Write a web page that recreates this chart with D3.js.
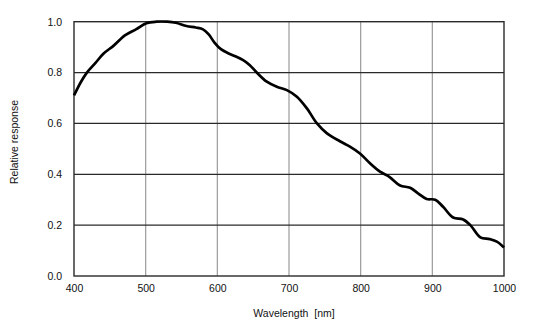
<!DOCTYPE html>
<html><head><meta charset="utf-8">
<script src="https://cdn.jsdelivr.net/npm/d3@7/dist/d3.min.js"></script>
<style>body{margin:0;background:#fff}svg{display:block}text{font-family:"Liberation Sans",Arial,sans-serif;fill:#111}</style>
</head><body><svg id="c" width="554" height="331"></svg>
<script>
const wavelength = [400,410,418,430,441,455,471,487,501,515,530,542,557,570,580,588,596,605,615,625,636,645,655,669,683,697,711,725,739,753,771,785,799,813,827,840,855,869,880,892,904,915,929,943,953,967,980,990,1000];
const response = [0.71,0.765,0.80,0.838,0.874,0.905,0.946,0.971,0.994,1.0,1.0,0.996,0.983,0.977,0.97,0.95,0.918,0.892,0.876,0.864,0.849,0.83,0.80,0.764,0.744,0.731,0.705,0.659,0.60,0.561,0.530,0.509,0.482,0.443,0.41,0.39,0.356,0.347,0.325,0.303,0.30,0.272,0.23,0.222,0.20,0.152,0.145,0.135,0.112];
const xTicks = [400,500,600,700,800,900,1000];
const yTicks = [0.0,0.2,0.4,0.6,0.8,1.0];
const xTitle = "Wavelength  [nm]";
const yTitle = "Relative response";

const svg = d3.select("#c");
const L=74,R=504,T=21.7,B=276;
const x = d3.scaleLinear().domain([400,1000]).range([L,R]);
const y = d3.scaleLinear().domain([0,1]).range([B,T]);

svg.append("g").selectAll("line").data(xTicks.slice(1,-1)).join("line")
  .attr("x1",d=>x(d)).attr("x2",d=>x(d)).attr("y1",T).attr("y2",B)
  .attr("stroke","#9a9a9a").attr("stroke-width",1.2);
svg.append("g").selectAll("line").data(yTicks.slice(1,-1)).join("line")
  .attr("x1",L).attr("x2",R).attr("y1",d=>y(d)).attr("y2",d=>y(d))
  .attr("stroke","#2a2a2a").attr("stroke-width",1.3);
svg.append("rect").attr("x",L).attr("y",T).attr("width",R-L).attr("height",B-T)
  .attr("fill","none").attr("stroke","#2a2a2a").attr("stroke-width",1.4);

const xa = d3.axisBottom(x).tickValues(xTicks).tickSize(0).tickPadding(0).tickFormat(d3.format("d"));
const gx = svg.append("g").attr("transform",`translate(0,${B})`).call(xa);
gx.select(".domain").remove();
gx.selectAll("text").attr("dy",0).attr("y",16).style("font-size","10.5px").attr("fill","#111");

const ya = d3.axisLeft(y).tickValues(yTicks).tickSize(0).tickPadding(0).tickFormat(d3.format(".1f"));
const gy = svg.append("g").attr("transform",`translate(${L-12},0)`).call(ya);
gy.select(".domain").remove();
gy.selectAll("text").style("font-size","10.5px").attr("fill","#111");

svg.append("text").attr("x",294).attr("y",317).attr("text-anchor","middle")
  .style("font-size","10.5px").style("white-space","pre").attr("xml:space","preserve").text(xTitle);
svg.append("text").attr("transform","translate(18,142) rotate(-90)").attr("text-anchor","middle")
  .style("font-size","10.5px").text(yTitle);

const line = d3.line().x((d,i)=>x(wavelength[i])).y(d=>y(d)).curve(d3.curveCatmullRom.alpha(0.5));
svg.append("path").datum(response).attr("d",line).attr("fill","none")
  .attr("stroke","#000").attr("stroke-width",2.7).attr("stroke-linejoin","round");
</script></body></html>
